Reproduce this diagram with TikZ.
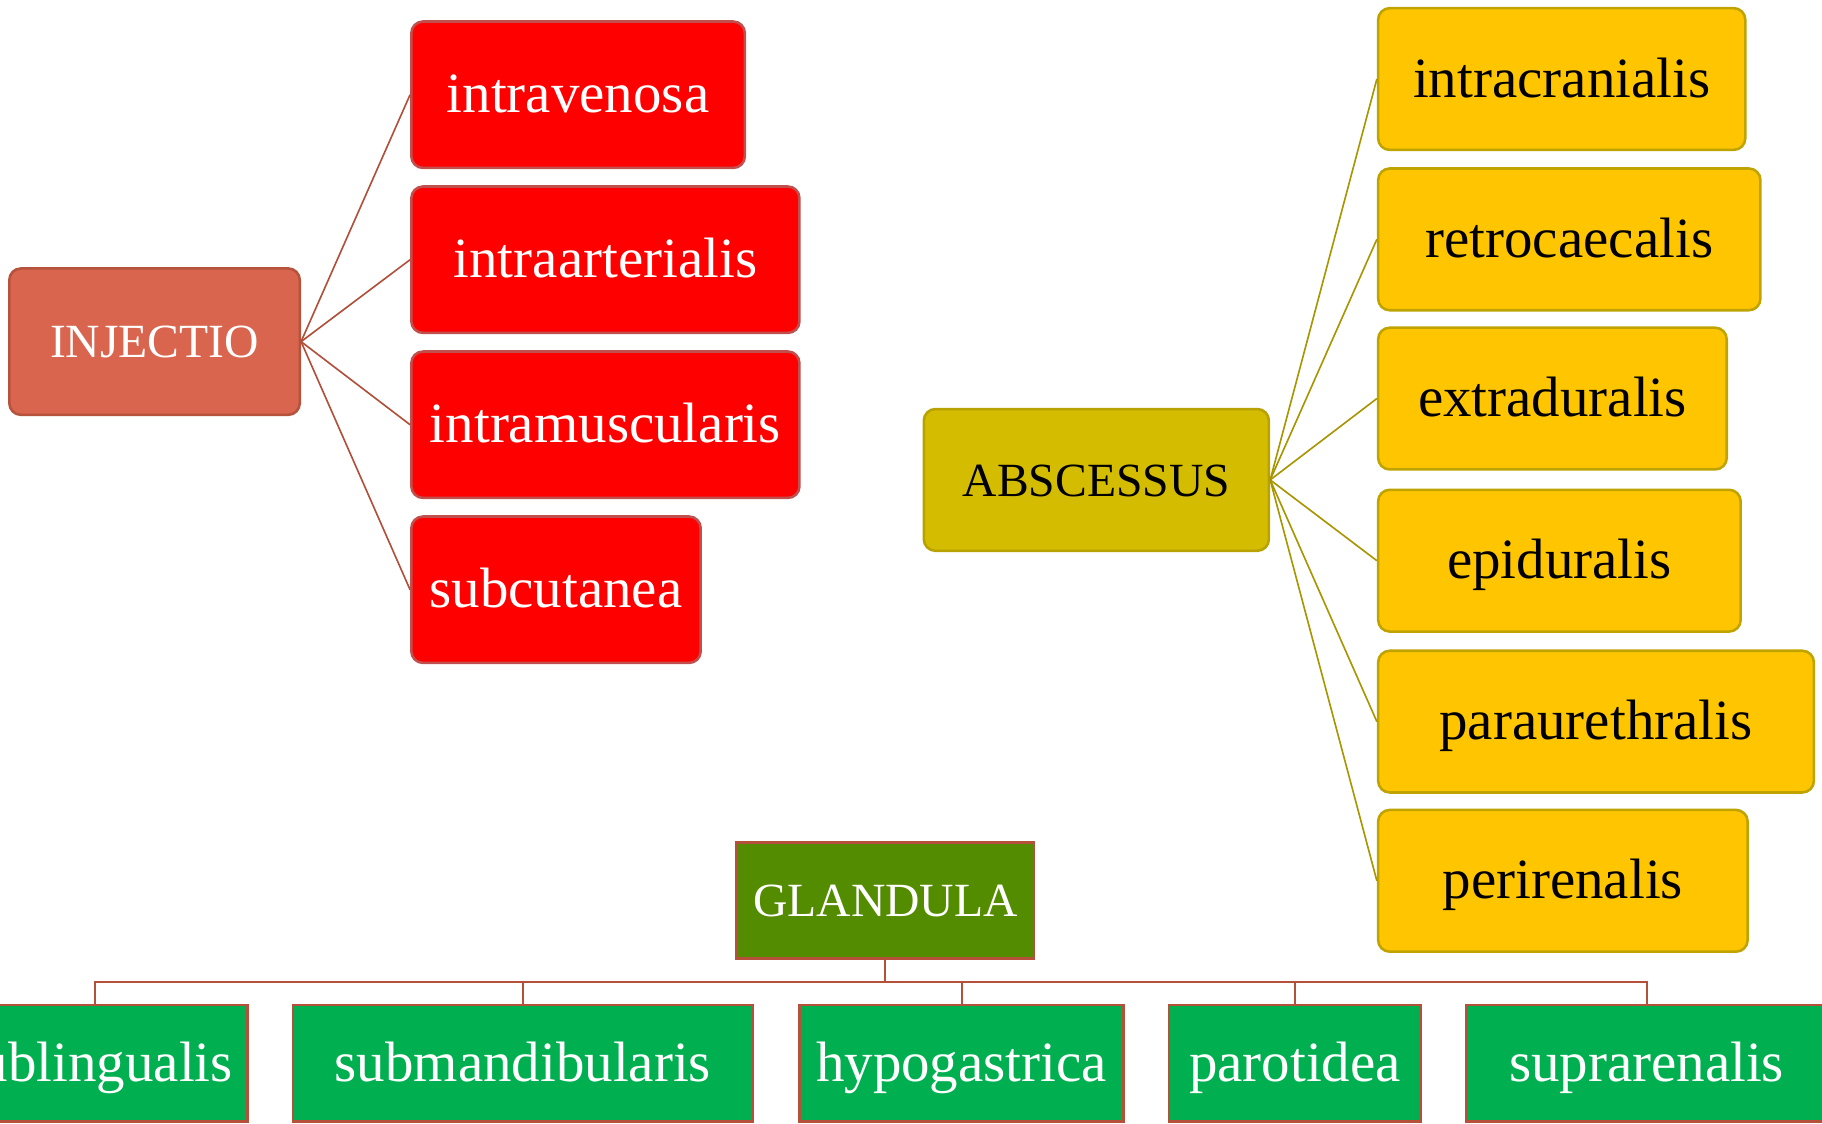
\documentclass[tikz,border=0pt]{standalone}
\usepackage{fontspec}
\setmainfont{Liberation Serif}
\definecolor{injfill}{HTML}{D9654F}
\definecolor{injdraw}{HTML}{B5533C}
\definecolor{redfill}{HTML}{FF0000}
\definecolor{reddraw}{HTML}{C0504D}
\definecolor{redline}{HTML}{B0503A}
\definecolor{absfill}{HTML}{D4BC00}
\definecolor{absdraw}{HTML}{B8A200}
\definecolor{yelfill}{HTML}{FFC600}
\definecolor{yeldraw}{HTML}{BFA300}
\definecolor{yelline}{HTML}{A89500}
\definecolor{glfill}{HTML}{548C00}
\definecolor{grfill}{HTML}{00B050}
\definecolor{grdraw}{HTML}{B5503A}
\tikzset{
  box/.style={rectangle, inner sep=0pt, line width=2.2pt, align=center},
  mainfont/.style={font=\fontsize{41}{48}\selectfont, text height=28pt, text depth=0pt},
  subfont/.style={font=\fontsize{49}{56}\selectfont, text height=31pt, text depth=0pt},
  injbox/.style={box, mainfont, rounded corners=10pt, fill=injfill, draw=injdraw, text=white, minimum width=250pt, minimum height=126pt},
  redbox/.style={box, subfont, rounded corners=10pt, fill=redfill, draw=reddraw, text=white, minimum height=126pt},
  absbox/.style={box, mainfont, rounded corners=10pt, fill=absfill, draw=absdraw, text=black, minimum width=297pt, minimum height=122pt},
  yelbox/.style={box, subfont, rounded corners=10pt, fill=yelfill, draw=yeldraw, text=black, minimum height=122pt},
  glbox/.style={box, mainfont, fill=glfill, draw=grdraw, text=white, minimum width=256pt, minimum height=100pt},
  grbox/.style={box, subfont, fill=grfill, draw=grdraw, text=white, minimum height=100pt},
  redlink/.style={draw=redline, line width=1.4pt},
  yellink/.style={draw=yelline, line width=1.4pt},
  grlink/.style={draw=grdraw, line width=1.8pt},
}
\begin{document}
\begin{tikzpicture}[x=1pt,y=-1pt]
\clip (0,0) rectangle (1568,967);
\fill[white] (0,0) rectangle (1568,967);
% INJECTIO
\node[injbox] (inj) at (133,294) {INJECTIO};
\node[redbox, minimum width=287pt] (iv) at (497.5,81.5) {intravenosa};
\node[redbox, minimum width=334pt] (ia) at (521,223.5) {intraarterialis};
\node[redbox, minimum width=334pt] (im) at (521,365.5) {intramuscularis};
\node[redbox, minimum width=249pt] (sc) at (478.5,507.5) {subcutanea};
\foreach \c in {iv,ia,im,sc} \draw[redlink] (inj.east) -- (\c.west);
% ABSCESSUS
\node[absbox] (abs) at (943.5,413) {ABSCESSUS};
\node[yelbox, minimum width=316pt] (ic) at (1344,68) {intracranialis};
\node[yelbox, minimum width=329pt] (rc) at (1350.5,206) {retrocaecalis};
\node[yelbox, minimum width=300pt] (ed) at (1336,343) {extraduralis};
\node[yelbox, minimum width=312pt] (ep) at (1342,482.5) {epiduralis};
\node[yelbox, minimum width=375pt] (pu) at (1373.5,621) {paraurethralis};
\node[yelbox, minimum width=318pt] (pr) at (1345,758) {perirenalis};
\foreach \c in {ic,rc,ed,ep,pu,pr} \draw[yellink] (abs.east) -- (\c.west);
% GLANDULA
\node[glbox] (gl) at (762,775) {GLANDULA};
\node[grbox, minimum width=262pt] (sl) at (82,915) {sublingualis};
\node[grbox, minimum width=396pt] (sm) at (450,915) {submandibularis};
\node[grbox, minimum width=279pt] (hg) at (827.5,915) {hypogastrica};
\node[grbox, minimum width=217pt] (pa) at (1114.5,915) {parotidea};
\node[grbox, minimum width=310pt] (su) at (1417,915) {suprarenalis};
\coordinate (bus) at (762,845);
\draw[grlink] (gl.south) -- (bus);
\foreach \c in {sl,sm,hg,pa,su} \draw[grlink] (bus) -| (\c.north);
\end{tikzpicture}
\end{document}
